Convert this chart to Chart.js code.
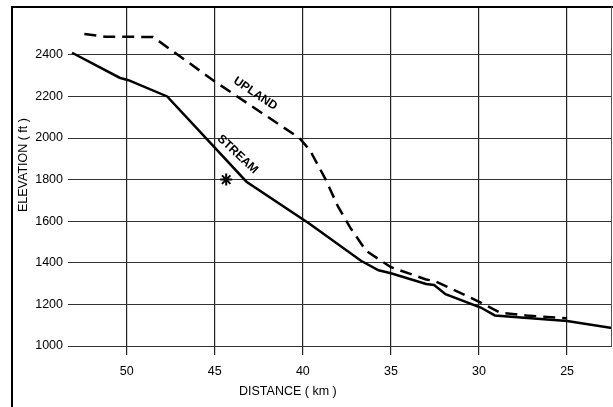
<!DOCTYPE html>
<html><head><meta charset="utf-8">
<script src="https://cdn.jsdelivr.net/npm/chart.js@4/dist/chart.umd.min.js"></script>
<style>html,body{margin:0;padding:0;background:#fff;}#wrap{width:613px;height:407px;position:relative;}</style>
</head><body><div id="wrap"><canvas id="c" width="613" height="407"></canvas></div>
<script>
// ---- data ----
const streamKm = [53.1, 50.4, 49.9, 47.7, 45.5, 43.2, 39.6, 36.7, 35.7, 35.0, 33.0, 32.55, 31.9, 29.9, 29.1, 25.0, 22.45];
const streamFt = [2410, 2290, 2278, 2200, 2000, 1790, 1587, 1410, 1364, 1350, 1298, 1293, 1249, 1185, 1147, 1120, 1087];
const uplandKm = [52.4, 51.2, 48.5, 45.0, 40.2, 39.6, 38.7, 38.0, 37.3, 36.4, 35.0, 33.0, 32.5, 29.9, 28.8, 27.3, 25.0];
const uplandFt = [2500, 2487, 2486, 2272, 2000, 1942, 1800, 1670, 1568, 1457, 1379, 1320, 1312, 1209, 1160, 1147, 1133];
const markerKm = [44.35];
const markerFt = [1800];
const xTicks = [50, 45, 40, 35, 30, 25];
const yTicks = [1000, 1200, 1400, 1600, 1800, 2000, 2200, 2400];
const seriesNames = ['STREAM', 'UPLAND'];
const xTitle = 'DISTANCE ( km )';
const yTitle = 'ELEVATION ( ft )';
// label anchor positions (data units)
const labelKm = [43.7, 42.7];
const labelFt = [1921, 2213];
const labelAngle = [43, 34];

const FONT = '"Liberation Sans", Arial, sans-serif';
const toPts = (xs, ys) => xs.map((x, i) => ({x: x, y: ys[i]}));
const zeroPad = s => { s.paddingLeft = 0; s.paddingRight = 0; s.paddingTop = 0; s.paddingBottom = 0; };

const decor = {
  id: 'decor',
  afterDraw(chart) {
    const ctx = chart.ctx, ca = chart.chartArea;
    const xs = chart.scales.x, ys = chart.scales.y;
    ctx.save();
    // frame
    ctx.strokeStyle = '#000';
    ctx.lineWidth = 2;
    ctx.beginPath();
    ctx.moveTo(12, 407); ctx.lineTo(12, 7); ctx.lineTo(613, 7);
    ctx.stroke();
    ctx.lineWidth = 1;
    ctx.strokeStyle = '#555';
    ctx.beginPath();
    ctx.moveTo(ca.right - 0.5, ca.top); ctx.lineTo(ca.right - 0.5, ca.bottom);
    ctx.stroke();
    // series labels
    ctx.fillStyle = '#000';
    ctx.textAlign = 'center';
    ctx.textBaseline = 'middle';
    ctx.font = 'bold 12px ' + FONT;
    for (let i = 0; i < seriesNames.length; i++) {
      ctx.save();
      ctx.translate(xs.getPixelForValue(labelKm[i]), ys.getPixelForValue(labelFt[i]));
      ctx.rotate(labelAngle[i] * Math.PI / 180);
      ctx.fillText(seriesNames[i], 0, 0);
      ctx.restore();
    }
    // axis titles
    ctx.font = '12.5px ' + FONT;
    ctx.fillText(xTitle, xs.getPixelForValue(40.85), ca.bottom + 46);
    ctx.save();
    ctx.translate(23.5, ys.getPixelForValue(1870));
    ctx.rotate(-Math.PI / 2);
    ctx.fillText(yTitle, 0, 0);
    ctx.restore();
    ctx.restore();
  }
};

new Chart(document.getElementById('c'), {
  type: 'line',
  data: {
    datasets: [
      {label: seriesNames[0], data: toPts(streamKm, streamFt), borderColor: '#000', borderWidth: 2.5,
       pointRadius: 0, tension: 0, fill: false},
      {label: seriesNames[1], data: toPts(uplandKm, uplandFt), borderColor: '#000', borderWidth: 2.5,
       borderDash: [12, 7], pointRadius: 0, tension: 0, fill: false},
      {label: 'marker', type: 'scatter', data: toPts(markerKm, markerFt), pointStyle: 'star',
       pointRadius: 6, borderColor: '#000', borderWidth: 2, backgroundColor: '#000', showLine: false}
    ]
  },
  options: {
    responsive: false,
    animation: false,
    devicePixelRatio: 1,
    layout: {autoPadding: false, padding: {top: 7, right: 1, left: 0, bottom: 0}},
    plugins: {legend: {display: false}, tooltip: {enabled: false}},
    scales: {
      x: {
        type: 'linear', reverse: true, min: 22.45, max: 53.33,
        afterBuildTicks: s => { s.ticks = xTicks.map(v => ({value: v})); },
        afterFit: s => { s.height = 61; zeroPad(s); },
        grid: {color: '#222', lineWidth: 1.2, drawTicks: true, tickLength: 9, tickColor: '#222'},
        border: {display: false},
        ticks: {color: '#000', font: {family: FONT, size: 12.5}, padding: 9, maxRotation: 0,
                callback: v => String(v)}
      },
      y: {
        type: 'linear', min: 1000, max: 2630,
        afterBuildTicks: s => { s.ticks = yTicks.map(v => ({value: v})); },
        afterFit: s => { s.width = 68; zeroPad(s); },
        grid: {color: '#333', lineWidth: 1, drawTicks: false},
        border: {display: false},
        ticks: {color: '#000', font: {family: FONT, size: 12.5}, padding: 5,
                callback: v => String(v)}
      }
    }
  },
  plugins: [decor]
});
</script>
</body></html>
